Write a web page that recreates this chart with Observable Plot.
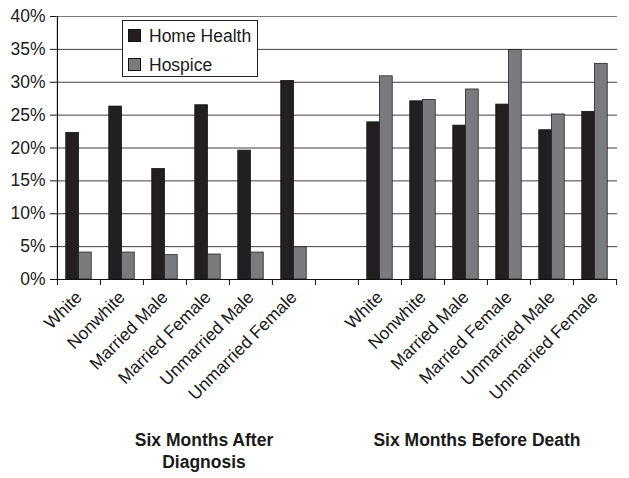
<!DOCTYPE html>
<html>
<head>
<meta charset="utf-8">
<script src="https://cdn.jsdelivr.net/npm/d3@7"></script>
<script src="https://cdn.jsdelivr.net/npm/@observablehq/plot@0.6"></script>
<style>
  html, body { margin: 0; padding: 0; background: #fff; }
  #wrap { position: relative; width: 629px; height: 478px; font-family: "Liberation Sans", Arial, Helvetica, sans-serif; }
  #legend { position: absolute; left: 122px; top: 20px; width: 134px; height: 55px; background: #fff; border: 1px solid #222; box-sizing: content-box; }
  .li { position: absolute; left: 5px; font-size: 17.5px; color: #1a1a1a; line-height: 18px; white-space: nowrap; }
  .sw { display: inline-block; width: 11px; height: 11px; border: 1px solid #111; vertical-align: 0px; margin-right: 8px; }
</style>
</head>
<body>
<div id="wrap">
  <div id="chart"></div>
  <div id="legend"></div>
</div>
<script>
// ---- data ----
const groups = ["Six Months After Diagnosis", "Six Months Before Death"];
const groupLabels = ["Six Months After\nDiagnosis", "Six Months Before Death"];
const categories = ["White", "Nonwhite", "Married Male", "Married Female", "Unmarried Male", "Unmarried Female"];
const seriesNames = ["Home Health", "Hospice"];
const homeHealthAfterDiagnosis = [22.3, 26.3, 16.8, 26.5, 19.6, 30.2];
const hospiceAfterDiagnosis = [4.1, 4.1, 3.7, 3.8, 4.1, 4.9];
const homeHealthBeforeDeath = [23.9, 27.1, 23.4, 26.6, 22.7, 25.5];
const hospiceBeforeDeath = [30.9, 27.3, 28.9, 34.9, 25.1, 32.8];
const yTicks = [0, 5, 10, 15, 20, 25, 30, 35, 40];
const seriesColors = ["#231f20", "#7a7b7e"];

// ---- build table ----
const slots = [
  ...categories.map(c => "A|" + c),
  "gap",
  ...categories.map(c => "B|" + c)
];
const rows = [];
categories.forEach((c, i) => {
  rows.push({slot: "A|" + c, series: seriesNames[0], value: homeHealthAfterDiagnosis[i]});
  rows.push({slot: "A|" + c, series: seriesNames[1], value: hospiceAfterDiagnosis[i]});
  rows.push({slot: "B|" + c, series: seriesNames[0], value: homeHealthBeforeDeath[i]});
  rows.push({slot: "B|" + c, series: seriesNames[1], value: hospiceBeforeDeath[i]});
});
const hh = rows.filter(d => d.series === seriesNames[0]);
const hos = rows.filter(d => d.series === seriesNames[1]);

const W = 629, H = 478, mL = 56, mR = 12, mT = 16, mB = 199;
const bw = (W - mL - mR) / slots.length;
const barW = 12.8;
const FS = 17.5;

const chart = Plot.plot({
  width: W, height: H,
  marginLeft: mL, marginRight: mR, marginTop: mT, marginBottom: mB,
  style: {fontFamily: "'Liberation Sans', Arial, Helvetica, sans-serif", fontSize: FS + "px", color: "#1a1a1a", background: "#fff", overflow: "visible"},
  x: {type: "band", domain: slots, padding: 0},
  y: {domain: [0, 40]},
  marks: [
    Plot.gridY(yTicks.slice(0, -1), {stroke: "#2a2a2a", strokeOpacity: 0.9}),
    Plot.gridY([40], {stroke: "#777", strokeOpacity: 1}),
    Plot.barY(hh, {x: "slot", y: "value", fill: seriesColors[0], stroke: "#111", strokeWidth: 0.8, insetLeft: bw / 2 - barW, insetRight: bw / 2}),
    Plot.barY(hos, {x: "slot", y: "value", fill: seriesColors[1], stroke: "#222", strokeWidth: 0.8, insetLeft: bw / 2, insetRight: bw / 2 - barW}),
    Plot.ruleY([0], {stroke: "#111", strokeWidth: 1.2}),
    Plot.ruleX([slots[0]], {y1: 0, y2: 40, dx: -bw / 2, stroke: "#111", strokeWidth: 1.2}),
    Plot.axisY({ticks: yTicks, tickFormat: d => d + "%", tickSize: 6, tickPadding: 5, label: null, stroke: "#111", fontSize: FS}),
    Plot.axisX({ticks: slots, tickSize: 6, dx: -bw / 2, tickFormat: () => "", label: null, stroke: "#111"}),
    Plot.axisX({ticks: [slots[slots.length - 1]], tickSize: 6, dx: bw / 2, tickFormat: () => "", label: null, stroke: "#111"}),
    Plot.axisX({ticks: slots.filter(s => s !== "gap"), tickSize: 0, tickPadding: 15, tickRotate: -45, tickFormat: d => d.split("|")[1], label: null, fontSize: FS}),
    Plot.text([groupLabels[0]], {x: ["A|Married Female"], text: d => d, dx: -4, frameAnchor: "bottom", dy: 151, lineAnchor: "top", lineHeight: 1.25, fontWeight: "bold", fontSize: FS, fill: "#1a1a1a"}),
    Plot.text([groupLabels[1]], {x: ["B|Married Male"], text: d => d, dx: 11, frameAnchor: "bottom", dy: 151, lineAnchor: "top", lineHeight: 1.25, fontWeight: "bold", fontSize: FS, fill: "#1a1a1a"})
  ]
});
document.getElementById("chart").appendChild(chart);

// ---- legend (HTML overlay inside the plot area) ----
const legend = document.getElementById("legend");
seriesNames.forEach((name, i) => {
  const item = document.createElement("div");
  item.className = "li";
  item.style.top = (i === 0 ? 6 : 35) + "px";
  const sw = document.createElement("span");
  sw.className = "sw";
  sw.style.background = seriesColors[i];
  item.appendChild(sw);
  item.appendChild(document.createTextNode(name));
  legend.appendChild(item);
});
</script>
</body>
</html>
